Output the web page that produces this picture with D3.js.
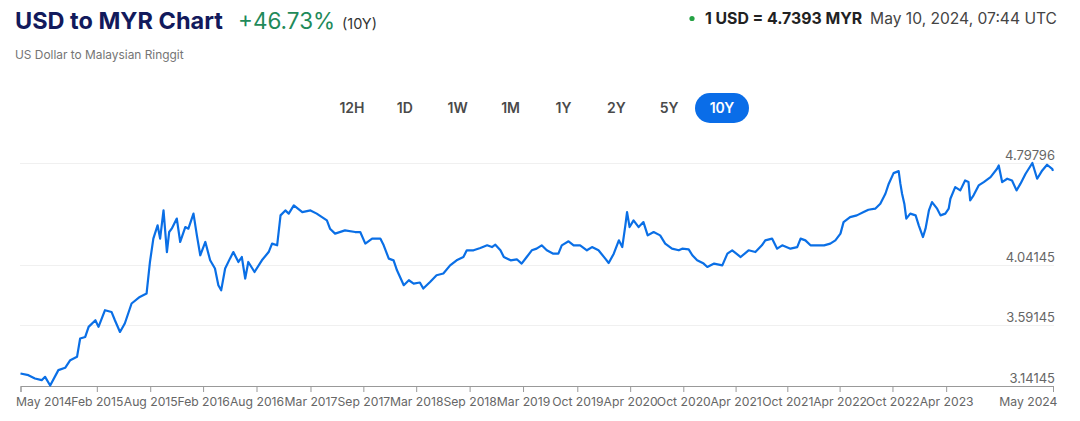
<!DOCTYPE html>
<html>
<head>
<meta charset="utf-8">
<title>USD to MYR Chart</title>
<script src="https://cdn.jsdelivr.net/npm/d3@7"></script>
<style>
  body { margin: 0; background: #fff; font-family: Inter, "Noto Sans", sans-serif; }
  svg { display: block; }
</style>
</head>
<body>
<script>
// rate readings, USD -> MYR, 10 years
const dates = [
  "2014-05-10","2014-06-07","2014-06-30","2014-07-24","2014-08-05","2014-08-23","2014-09-21","2014-10-15",
  "2014-11-02","2014-11-26","2014-12-07","2014-12-25","2015-01-06","2015-01-30","2015-02-10","2015-03-05",
  "2015-03-28","2015-04-09","2015-04-27","2015-05-14","2015-06-07","2015-07-06","2015-07-30","2015-08-11",
  "2015-08-23","2015-09-07","2015-09-16","2015-09-28","2015-10-10","2015-10-18","2015-10-27","2015-11-14",
  "2015-11-26","2015-12-14","2015-12-25","2016-01-12","2016-01-24","2016-02-05","2016-02-23","2016-03-11",
  "2016-03-28","2016-04-09","2016-04-19","2016-05-03","2016-05-20","2016-06-01","2016-06-19","2016-07-01",
  "2016-07-13","2016-07-24","2016-08-15","2016-09-10","2016-10-04","2016-10-16","2016-11-03","2016-11-15",
  "2016-12-02","2016-12-14","2017-01-01","2017-01-31","2017-03-01","2017-03-23","2017-04-28","2017-05-09",
  "2017-05-27","2017-07-01","2017-08-06","2017-08-24","2017-09-11","2017-10-05","2017-11-03","2017-11-15",
  "2017-12-03","2017-12-20","2018-01-01","2018-01-25","2018-02-12","2018-03-01","2018-03-23","2018-04-04",
  "2018-04-28","2018-05-21","2018-06-14","2018-07-08","2018-07-31","2018-08-24","2018-09-05","2018-09-29",
  "2018-10-23","2018-11-16","2018-12-03","2018-12-15","2019-01-02","2019-01-14","2019-02-07","2019-03-01",
  "2019-03-18","2019-04-05","2019-04-23","2019-05-10","2019-05-28","2019-06-15","2019-07-08","2019-07-26",
  "2019-08-07","2019-08-31","2019-09-18","2019-10-11","2019-11-04","2019-11-22","2019-12-15","2020-01-08",
  "2020-01-20","2020-02-07","2020-02-25","2020-03-08","2020-03-19","2020-03-25","2020-04-03","2020-04-17",
  "2020-05-05","2020-05-22","2020-06-06","2020-06-27","2020-07-20","2020-08-07","2020-08-31","2020-09-24",
  "2020-10-06","2020-10-29","2020-11-11","2020-11-28","2020-12-21","2021-01-03","2021-01-27","2021-02-25",
  "2021-03-15","2021-04-01","2021-05-01","2021-05-29","2021-06-22","2021-07-15","2021-07-27","2021-08-20",
  "2021-09-07","2021-09-25","2021-10-24","2021-11-17","2021-11-29","2021-12-16","2022-01-03","2022-01-27",
  "2022-02-20","2022-03-14","2022-04-01","2022-04-19","2022-04-30","2022-05-23","2022-06-16","2022-07-10",
  "2022-07-27","2022-08-20","2022-09-07","2022-09-25","2022-10-07","2022-10-24","2022-11-11","2022-11-17",
  "2022-11-23","2022-12-01","2022-12-08","2022-12-22","2023-01-10","2023-01-21","2023-02-05","2023-02-14",
  "2023-02-26","2023-03-09","2023-03-27","2023-04-08","2023-04-25","2023-05-07","2023-05-13","2023-05-30",
  "2023-06-17","2023-07-04","2023-07-16","2023-07-22","2023-08-03","2023-08-21","2023-09-08","2023-10-02",
  "2023-10-25","2023-10-31","2023-11-12","2023-11-30","2023-12-17","2024-01-02","2024-01-16","2024-02-03",
  "2024-02-27","2024-03-15","2024-04-02","2024-04-19","2024-05-07","2024-05-10"
];
const rates = [
  3.231,3.2185,3.194,3.181,3.206,3.14145,3.256,3.273,
  3.330,3.355,3.491,3.503,3.578,3.627,3.578,3.702,
  3.689,3.627,3.540,3.603,3.752,3.801,3.826,4.061,
  4.235,4.334,4.235,4.445,4.135,4.284,4.309,4.384,
  4.210,4.321,4.309,4.421,4.259,4.111,4.210,4.0735,
  4.012,3.888,3.850,4.012,4.086,4.135,4.061,4.098,
  3.9375,4.061,3.9865,4.0735,4.135,4.198,4.185,4.408,
  4.445,4.421,4.482,4.4326,4.445,4.421,4.371,4.309,
  4.272,4.2966,4.284,4.284,4.198,4.235,4.235,4.185,
  4.086,4.073,3.999,3.888,3.925,3.900,3.908,3.863,
  3.912,3.962,3.975,4.036,4.0735,4.098,4.148,4.148,
  4.165,4.185,4.172,4.190,4.148,4.098,4.0735,4.081,
  4.049,4.098,4.148,4.1605,4.185,4.148,4.123,4.123,
  4.185,4.215,4.185,4.185,4.148,4.172,4.148,4.086,
  4.0535,4.123,4.222,4.172,4.334,4.4326,4.321,4.371,
  4.321,4.358,4.259,4.284,4.259,4.198,4.160,4.148,
  4.160,4.155,4.111,4.0735,4.049,4.024,4.049,4.036,
  4.123,4.148,4.098,4.148,4.135,4.185,4.222,4.235,
  4.160,4.185,4.160,4.172,4.235,4.222,4.185,4.185,
  4.185,4.198,4.222,4.272,4.358,4.3955,4.408,4.4326,
  4.450,4.458,4.495,4.569,4.644,4.7226,4.7375,4.644,
  4.569,4.495,4.384,4.421,4.408,4.334,4.247,4.309,
  4.445,4.507,4.458,4.408,4.421,4.458,4.532,4.6185,
  4.594,4.668,4.656,4.520,4.557,4.631,4.656,4.693,
  4.755,4.780,4.656,4.681,4.668,4.594,4.644,4.718,
  4.79796,4.681,4.7427,4.785,4.755,4.7393
];

const yTicks = [3.14145, 3.59145, 4.04145, 4.79796];
const xTickDates = ["2014-05-10","2015-02-04","2015-08-12","2016-02-15","2016-08-22","2017-03-01",
  "2017-09-04","2018-03-10","2018-09-15","2019-03-23","2019-10-01","2020-04-05","2020-10-10",
  "2021-04-13","2021-10-13","2022-04-16","2022-10-20","2023-04-28","2024-05-10"];
const xTickLabels = ["May 2014","Feb 2015","Aug 2015","Feb 2016","Aug 2016","Mar 2017","Sep 2017",
  "Mar 2018","Sep 2018","Mar 2019","Oct 2019","Apr 2020","Oct 2020","Apr 2021","Oct 2021",
  "Apr 2022","Oct 2022","Apr 2023","May 2024"];
const ranges = ["12H","1D","1W","1M","1Y","2Y","5Y","10Y"];
const activeRange = "10Y";

const w = 1080, h = 421;
const parse = d3.timeParse("%Y-%m-%d");
const data = dates.map((d, i) => ({ date: parse(d), rate: rates[i] }));

const svg = d3.select("body").append("svg")
  .attr("width", w)
  .attr("height", h);

// header
svg.append("text")
  .attr("x", 15).attr("y", 29)
  .style("font-size", "23.5px").style("font-weight", 700).style("fill", "#121a5c")
  .text("USD to MYR Chart");
svg.append("text")
  .attr("x", 238).attr("y", 29)
  .style("font-size", "22.5px").style("fill", "#1f8a5a")
  .text("+46.73%");
svg.append("text")
  .attr("x", 342).attr("y", 29)
  .style("font-size", "14.5px").style("fill", "#333")
  .text("(10Y)");
svg.append("text")
  .attr("x", 15).attr("y", 59)
  .style("font-size", "11.9px").style("fill", "#757575")
  .text("US Dollar to Malaysian Ringgit");

svg.append("circle")
  .attr("cx", 692).attr("cy", 18.5).attr("r", 2.6)
  .style("fill", "#25a244");
svg.append("text")
  .attr("x", 705).attr("y", 24)
  .style("font-size", "15.8px").style("font-weight", 700).style("fill", "#222")
  .text("1 USD = 4.7393 MYR");
svg.append("text")
  .attr("x", 1057).attr("y", 24).attr("text-anchor", "end")
  .style("font-size", "15.6px").style("fill", "#444")
  .text("May 10, 2024, 07:44 UTC");

// range buttons
const btnX = d3.scalePoint().domain(ranges).range([352, 722]);
const btn = svg.append("g").selectAll("g")
  .data(ranges)
  .join("g")
  .attr("transform", d => `translate(${btnX(d)},108)`);
btn.filter(d => d === activeRange).append("rect")
  .attr("x", -27).attr("y", -15).attr("width", 54).attr("height", 30).attr("rx", 15)
  .style("fill", "#0a6de8");
btn.append("text")
  .attr("text-anchor", "middle").attr("dy", "0.36em")
  .style("font-size", "14px").style("font-weight", 600)
  .style("fill", d => d === activeRange ? "#fff" : "#4a4a4a")
  .text(d => d);

// chart
const x = d3.scaleTime()
  .domain(d3.extent(data, d => d.date))
  .range([20.5, 1053]);
const y = d3.scaleLinear()
  .domain(d3.extent(data, d => d.rate))
  .range([385.5, 163]);

svg.append("g")
  .selectAll("line")
  .data(yTicks.slice(1))
  .join("line")
  .attr("x1", 20).attr("x2", 1054)
  .attr("y1", d => Math.round(y(d)) + 0.5).attr("y2", d => Math.round(y(d)) + 0.5)
  .style("stroke", "#f0f0f0");

svg.append("g")
  .selectAll("text")
  .data(yTicks)
  .join("text")
  .attr("x", 1055).attr("y", d => y(d) - 3)
  .attr("text-anchor", "end")
  .style("font-size", "13px").style("fill", "#666")
  .text(d => d);

const xAxis = d3.axisBottom(x)
  .tickValues(xTickDates.map(parse))
  .tickSize(6)
  .tickPadding(5)
  .tickFormat((d, i) => xTickLabels[i]);
const gx = svg.append("g")
  .attr("transform", "translate(0,386)")
  .call(xAxis);
gx.select(".domain").style("stroke", "#999");
gx.selectAll(".tick line").style("stroke", "#999");
gx.selectAll(".tick text")
  .style("font-family", "Inter, sans-serif").style("font-size", "12.2px").style("fill", "#666")
  .attr("text-anchor", (d, i) => i === 0 ? "start" : i === xTickLabels.length - 1 ? "end" : "middle")
  .attr("dx", (d, i) => i === 0 ? -5 : i === xTickLabels.length - 1 ? 4 : 0);

const line = d3.line()
  .x(d => x(d.date))
  .y(d => y(d.rate));
svg.append("path")
  .datum(data)
  .attr("d", line)
  .style("fill", "none")
  .style("stroke", "#0a6fe6")
  .style("stroke-width", 2.2)
  .style("stroke-linejoin", "round");
</script>
</body>
</html>
